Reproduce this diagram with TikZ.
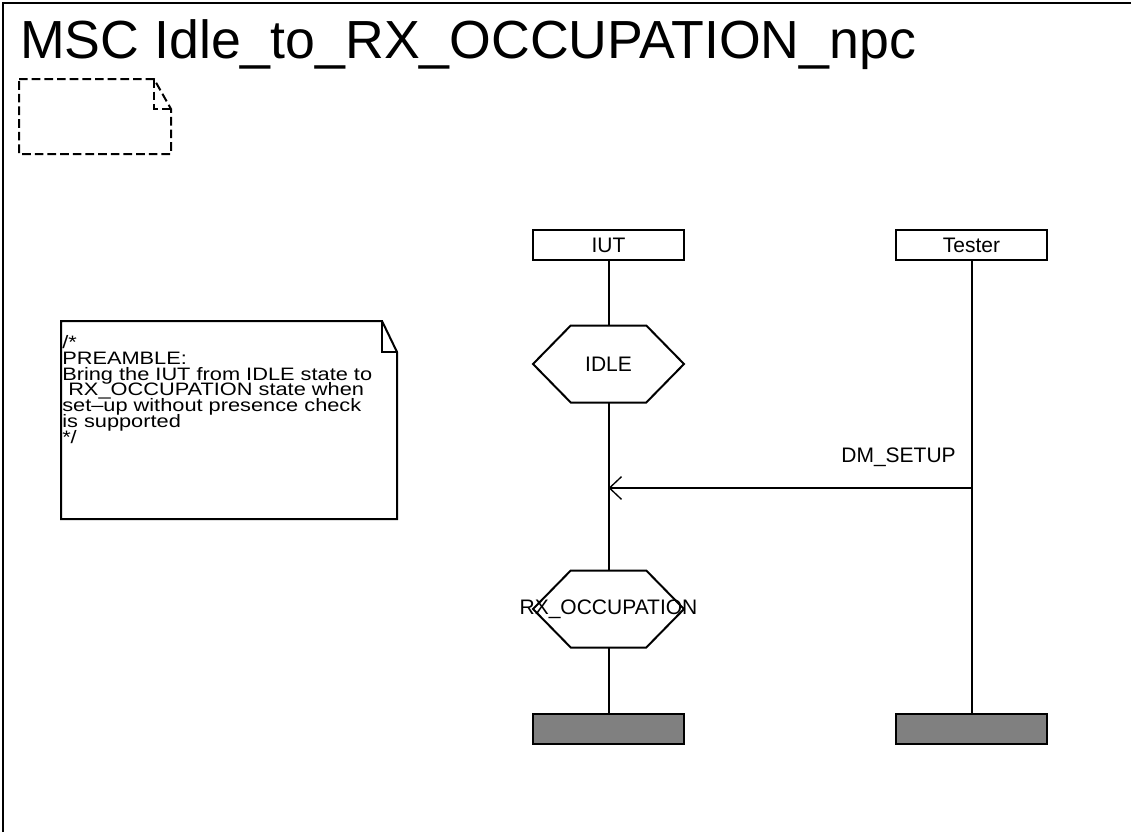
\documentclass[tikz,border=0pt]{standalone}
\usepackage{fontspec}
\setmainfont{Liberation Sans}
\newfontfamily\notefamily[FakeStretch=1.21]{Liberation Sans}
\usetikzlibrary{arrows.meta}

\newcommand{\mscfont}{\fontsize{15.75pt}{12.5pt}\selectfont}
\newcommand{\notefont}{\notefamily\fontsize{13.5pt}{11.9pt}\selectfont\lineskiplimit=-20pt}
\newcommand{\titlefont}{\fontsize{40.25pt}{48pt}\selectfont}

\tikzset{
  msc/.style={line width=1.5pt},
  instance/.style={draw, msc, rectangle, minimum width=113.25pt, minimum height=22.5pt, inner sep=0pt, font=\mscfont},
  instanceend/.style={draw, msc, rectangle, fill=gray, minimum width=113.25pt, minimum height=22.5pt, inner sep=0pt},
  state/.style={rectangle, minimum width=113.25pt, minimum height=57.75pt, inner sep=0pt, outer sep=0pt, font=\mscfont},
  msg/.style={line width=1pt, -{Straight Barb[length=9pt, width=17pt]}},
}

\begin{document}
\begin{tikzpicture}[x=0.75pt, y=-0.75pt]
\useasboundingbox (0,0) rectangle (1131,832);

% Frame and title
\draw[msc] (3,832) -- (3,3) -- (1131,3);
\node[anchor=base west, inner sep=0pt, font=\titlefont] (title) at (20,58) {MSC Idle\_to\_RX\_OCCUPATION\_npc};

% Empty dashed comment
\draw[msc, dash pattern=on 6.5pt off 3pt] (19,79) -- (154,79) -- (171,109) -- (171,154) -- (19,154) -- cycle;
\draw[msc, dash pattern=on 6.5pt off 3pt] (154,79) -- (154,109) -- (171,109);

% Preamble comment
\draw[msc] (61,321) -- (382,321) -- (397,352) -- (397,519) -- (61,519) -- cycle;
\draw[msc] (382,321) -- (382,352) -- (397,352);
\node[anchor=north west, align=left, inner sep=0pt, font=\notefont] (comment) at (62,335) {/*\\PREAMBLE:\\Bring the IUT from IDLE state to\\\hspace{4.5pt}RX\_OCCUPATION state when\\set–up without presence check\\is supported\\*/};

% Instances
\node[instance] (iut) at (608.5,245) {IUT};
\node[instance] (tester) at (971.5,245) {Tester};

% States
\node[state] (idle) at (608.5,364) {IDLE};
\node[state, label={[anchor=base, inner sep=0pt, font=\mscfont]center:RX\_OCCUPATION}] (rxocc) at (608.5,609) {};
\foreach \s in {idle,rxocc}
  \draw[msc] (\s.west) -- ([xshift=28.3pt]\s.north west) -- ([xshift=-28.3pt]\s.north east)
    -- (\s.east) -- ([xshift=-28.3pt]\s.south east) -- ([xshift=28.3pt]\s.south west) -- cycle;

% Instance ends
\node[instanceend] (iutend) at (608.5,729) {};
\node[instanceend] (testerend) at (971.5,729) {};

% Lifelines
\draw[msc] (iut) -- (idle);
\draw[msc] (idle) -- (rxocc);
\draw[msc] (rxocc) -- (iutend);
\draw[msc] (tester) -- (testerend);

% Message
\coordinate (dmfrom) at (971.5,488);
\coordinate (dmto) at (608.5,488);
\draw[msg] (dmfrom) -- (dmto);
\node[anchor=base east, inner sep=0pt, font=\mscfont] (dmlabel) at (956,462) {DM\_SETUP};
\end{tikzpicture}
\end{document}
